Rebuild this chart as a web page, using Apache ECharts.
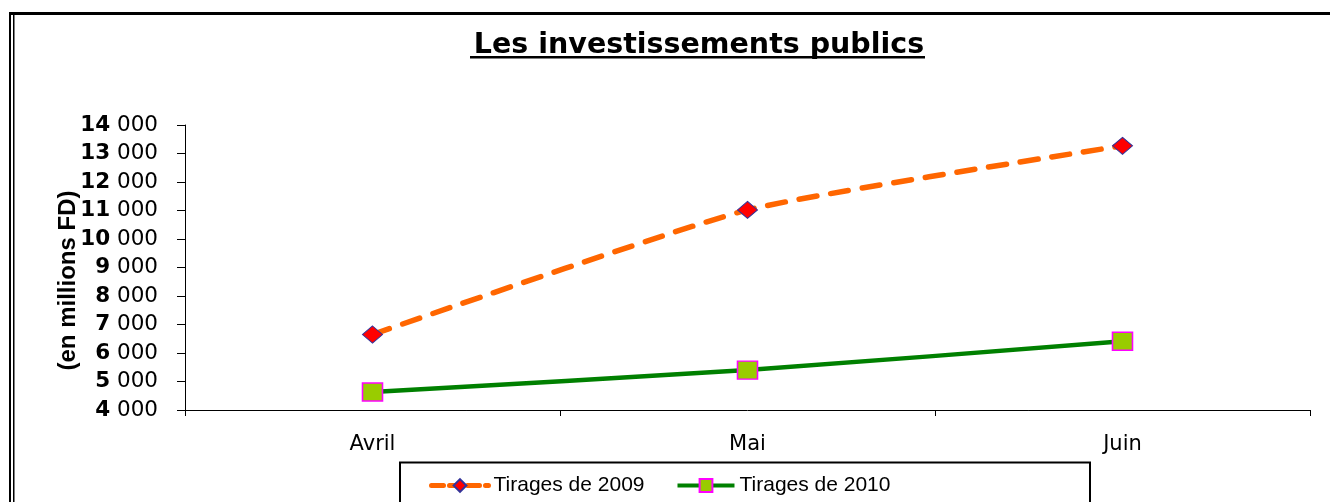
<!DOCTYPE html>
<html>
<head>
<meta charset="utf-8">
<script src="https://cdn.jsdelivr.net/npm/echarts@6/dist/echarts.min.js"></script>
<style>
html,body{margin:0;padding:0;background:#fff;}
#chart{width:1330px;height:502px;}
</style>
</head>
<body>
<div id="chart"></div>
<script>
var titleText = 'Les investissements publics';
var yAxisName = '(en millions FD)';
var categories = ['Avril', 'Mai', 'Juin'];
var seriesNames = ['Tirages de 2009', 'Tirages de 2010'];
var tirages2009 = [6650, 11020, 13270];
var tirages2010 = [4630, 5400, 6410];
var yMin = 4000, yMax = 14000, yStep = 1000;

var chart = echarts.init(document.getElementById('chart'), null, {renderer: 'canvas'});

function fmtY(v) {
  var head = Math.floor(v / 1000);
  return '{b|' + head + '}{s| }{n|000}';
}

var option = {
  backgroundColor: '#ffffff',
  animation: false,
  title: {
    text: titleText,
    left: 694,
    top: 26,
    textAlign: 'center',
    textStyle: {fontFamily: 'DejaVu Sans', fontWeight: 'bold', fontSize: 28.5, color: '#000'}
  },
  graphic: [
    {type: 'rect', shape: {x: 9, y: 12, width: 1321, height: 3}, style: {fill: '#000'}, silent: true},
    {type: 'rect', shape: {x: 9, y: 12, width: 2, height: 490}, style: {fill: '#000'}, silent: true},
    {type: 'rect', shape: {x: 13, y: 15, width: 1.5, height: 487}, style: {fill: '#000'}, silent: true},
    {type: 'rect', shape: {x: 470, y: 56, width: 455, height: 2.5}, style: {fill: '#000'}, silent: true},
    {type: 'rect', shape: {x: 400, y: 462.5, width: 690, height: 60}, style: {fill: 'none', stroke: '#000', lineWidth: 2}, silent: true}
  ],
  legend: {
    data: [
      {name: seriesNames[0], lineStyle: {width: 5, type: [12, 6], cap: 'round', color: '#FF6600'}},
      {name: seriesNames[1], lineStyle: {width: 4, color: '#008000'}}
    ],
    left: 429,
    top: 475,
    padding: 0,
    itemWidth: 57,
    itemHeight: 16,
    itemGap: 31,
    textStyle: {fontFamily: 'Liberation Sans, Arial', fontSize: 21, color: '#000'}
  },
  grid: {left: 185, right: 20, top: 125, bottom: 92, containLabel: false},
  xAxis: {
    type: 'category',
    data: categories,
    boundaryGap: true,
    axisLine: {lineStyle: {color: '#000', width: 1}},
    axisTick: {show: true, length: 6, lineStyle: {color: '#000'}},
    axisLabel: {margin: 24, fontFamily: 'DejaVu Sans', fontSize: 21, color: '#000'},
    splitLine: {show: false}
  },
  yAxis: {
    type: 'value',
    min: yMin,
    max: yMax,
    interval: yStep,
    name: yAxisName,
    nameLocation: 'middle',
    nameGap: 105,
    nameMoveOverlap: false,
    nameTextStyle: {fontFamily: 'Liberation Sans, Arial', fontWeight: 'bold', fontSize: 24, color: '#000', padding: [0, 26, 0, 0]},
    axisLine: {show: true, lineStyle: {color: '#000', width: 1}},
    axisTick: {show: true, length: 8, lineStyle: {color: '#000'}},
    splitLine: {show: false},
    axisLabel: {
      margin: 27,
      formatter: fmtY,
      rich: {
        b: {fontFamily: 'DejaVu Sans', fontWeight: 'bold', fontSize: 21.5, color: '#000'},
        s: {fontFamily: 'DejaVu Sans', fontSize: 21.5, color: '#000'},
        n: {fontFamily: 'DejaVu Sans', fontSize: 21.5, color: '#000'}
      }
    }
  },
  series: [
    {
      name: seriesNames[0],
      type: 'line',
      data: tirages2009,
      smooth: 0.17,
      symbol: 'diamond',
      symbolSize: [20, 17],
      lineStyle: {color: '#FF6600', width: 5.5, type: [18, 14], cap: 'round'},
      itemStyle: {color: '#FF0000', borderColor: '#333399', borderWidth: 1}
    },
    {
      name: seriesNames[1],
      type: 'line',
      data: tirages2010,
      smooth: 0.17,
      symbol: 'rect',
      symbolSize: [20, 18],
      lineStyle: {color: '#008000', width: 4.5},
      itemStyle: {color: '#99CC00', borderColor: '#FF00FF', borderWidth: 1.5}
    }
  ]
};
chart.setOption(option);
</script>
</body>
</html>
